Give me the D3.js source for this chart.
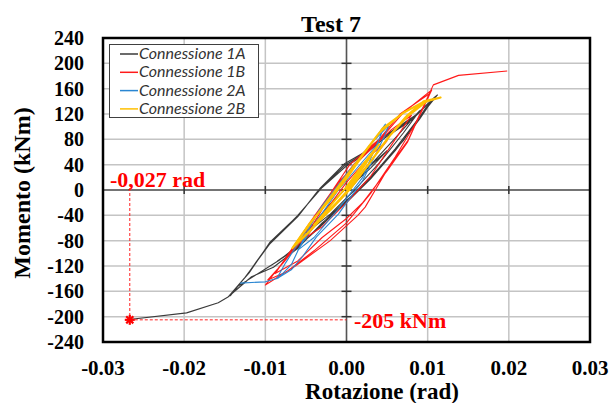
<!DOCTYPE html>
<html>
<head>
<meta charset="utf-8">
<script src="https://cdn.jsdelivr.net/npm/d3@7"></script>
<style>
  body { margin: 0; background: #fff; }
  svg { display: block; }
</style>
</head>
<body>
<script>
// rotazione (rad), momento (kNm)
var conn1A = [
  [0,0],[0.003,35],[0.005,62],[0.002,28],[-0.002,-22],[-0.005,-68],[-0.002,-38],[0.001,0],[0.004,42],[0.007,90],[0.009,125],
  [0.006,82],[0.003,40],[0,-5],[-0.004,-58],[-0.007,-100],[-0.0085,-112],
  [-0.006,-90],[-0.003,-55],[0,-18],[0.003,20],[0.006,65],[0.009,115],[0.0112,150],
  [0.0085,118],[0.0043,82],[0.002,58],[-0.0002,42],[-0.0033,2],[-0.0057,-37],[-0.0094,-82],[-0.012,-131],[-0.0146,-169],
  [-0.0117,-137],[-0.009,-122],[-0.006,-92],[-0.003,-52],[0,-20],[0.003,18],[0.006,62],[0.009,112],[0.0108,146],
  [0.008,110],[0.0047,82],[0.002,54],[0,38],[-0.003,4],[-0.006,-40],[-0.0097,-88],[-0.0122,-133],[-0.0143,-167],
  [-0.0135,-153],[-0.0082,-110],[-0.005,-78],[-0.002,-40],[0.001,-5],[0.004,35],[0.007,78],[0.0098,130],[0.011,148],
  [0.008,112],[0.0045,83],[0.002,56],[-0.0001,40],[-0.0035,-1],[-0.006,-42],[-0.0095,-86],[-0.0125,-138],[-0.0146,-169],
  [-0.0158,-178],[-0.0197,-194],[-0.0265,-204]
];
var conn1B = [
  [0,0],[0.002,30],[0.005,78],[0.003,55],[0,12],[-0.003,-40],[-0.005,-75],[-0.003,-58],[0,-20],[0.003,22],[0.006,80],[0.008,118],
  [0.0055,95],[0.002,52],[-0.001,12],[-0.004,-42],[-0.007,-98],[-0.0088,-132],
  [-0.006,-112],[-0.003,-75],[0,-45],[0.002,-20],[0.005,30],[0.0075,75],[0.0102,152],
  [0.0066,120],[0.004,80],[0.0004,40],[-0.0017,0],[-0.0057,-80],[-0.0082,-120],[-0.01,-150],
  [-0.0063,-120],[-0.002,-80],[0.0014,-40],[0.0023,-27],[0.0052,36],[0.0076,79],[0.0105,158],
  [0.007,122],[0.0045,85],[0.001,42],[-0.0013,4],[-0.005,-72],[-0.0078,-115],[-0.0097,-142],
  [-0.0075,-130],[-0.004,-96],[0,-52],[0.003,-5],[0.006,52],[0.0085,105],[0.0107,166],[0.0138,181],[0.0198,188]
];
var conn2A = [
  [0,0],[0.002,35],[0.004,75],[0.002,45],[-0.001,0],[-0.004,-55],[-0.006,-95],[-0.004,-75],[-0.001,-30],[0.002,20],[0.0048,104],
  [0.003,72],[0,25],[-0.003,-25],[-0.0055,-75],[-0.0075,-115],[-0.0086,-140],
  [-0.0068,-126],[-0.0054,-105],[-0.0037,-74],[-0.001,-38],[0.002,15],[0.0045,80],[0.0052,102],
  [0.0028,70],[0,22],[-0.0033,-30],[-0.0054,-80],[-0.0068,-118],[-0.0084,-139],[-0.01,-145],[-0.0131,-147]
];
var conn2B = [
  [0,0],[0.002,35],[0.004,72],[0.002,40],[0,5],[-0.002,-25],[-0.004,-55],[-0.002,-32],[0,-5],[0.003,45],[0.0055,88],
  [0.0075,118],[0.0095,140],[0.0116,146],
  [0.0095,139],[0.007,122],[0.0045,98],[0.002,55],[0,18],[-0.002,-15],[-0.0045,-52],[-0.0067,-92],
  [-0.0045,-65],[-0.002,-30],[0.0005,2],[0.003,45],[0.0055,88],[0.0075,116],[0.0099,140],[0.0116,146],
  [0.0093,138],[0.0068,120],[0.004,90],[0.0015,48],[-0.0005,14],[-0.003,-28],[-0.0052,-66],[-0.0066,-90],
  [-0.0048,-68],[-0.0022,-34],[0.0002,0],[0.0028,42],[0.0052,84],[0.0072,114],[0.0099,141],[0.0116,146]
];
var seriesNames = ["Connessione 1A", "Connessione 1B", "Connessione 2A", "Connessione 2B"];
var seriesColors = ["#3a3a3a", "#ff1a1a", "#2a86d2", "#ffc000"];
var xTicks = [-0.03, -0.02, -0.01, 0, 0.01, 0.02, 0.03];
var yTicks = [-240, -200, -160, -120, -80, -40, 0, 40, 80, 120, 160, 200, 240];
var ultPoint = [-0.0267, -205];

var W = 609, H = 403;
var plotL = 103, plotR = 590, plotT = 38, plotB = 342;
var serif = "'Liberation Serif', 'Times New Roman', serif";

var svg = d3.select("body").append("svg").attr("width", W).attr("height", H);

var x = d3.scaleLinear().domain([-0.03, 0.03]).range([plotL, plotR]);
var y = d3.scaleLinear().domain([-240, 240]).range([plotB, plotT]);

// grid
svg.append("g").selectAll("line").data(xTicks).enter().append("line")
  .attr("x1", d => x(d)).attr("x2", d => x(d)).attr("y1", plotT).attr("y2", plotB)
  .style("stroke", "#c4c4c4").style("stroke-width", 1.5);
svg.append("g").selectAll("line").data(yTicks).enter().append("line")
  .attr("x1", plotL).attr("x2", plotR).attr("y1", d => y(d)).attr("y2", d => y(d))
  .style("stroke", "#c4c4c4").style("stroke-width", 1.5);

// zero axes with ticks
svg.append("line").attr("x1", plotL).attr("x2", plotR).attr("y1", y(0)).attr("y2", y(0))
  .style("stroke", "#555").style("stroke-width", 1.5);
svg.append("line").attr("x1", x(0)).attr("x2", x(0)).attr("y1", plotT).attr("y2", plotB)
  .style("stroke", "#555").style("stroke-width", 1.5);
svg.append("g").selectAll("line").data(xTicks.slice(1, -1)).enter().append("line")
  .attr("x1", d => x(d)).attr("x2", d => x(d)).attr("y1", y(0) - 4).attr("y2", y(0) + 4)
  .style("stroke", "#333").style("stroke-width", 1.5);
svg.append("g").selectAll("line").data(yTicks.slice(1, -1)).enter().append("line")
  .attr("x1", x(0) - 5).attr("x2", x(0) + 5).attr("y1", d => y(d)).attr("y2", d => y(d))
  .style("stroke", "#333").style("stroke-width", 1.5);

// curves
var line = d3.line().x(d => x(d[0])).y(d => y(d[1]));
var allSeries = [conn1A, conn1B, conn2A, conn2B];
allSeries.forEach(function(s, i) {
  svg.append("path").datum(s).attr("d", line)
    .style("fill", "none").style("stroke", seriesColors[i])
    .style("stroke-width", i == 3 ? 2 : 1.1).style("stroke-linejoin", "round");
});

// ultimate point annotation
svg.append("line").attr("x1", x(ultPoint[0])).attr("x2", x(ultPoint[0])).attr("y1", y(0) - 2).attr("y2", y(ultPoint[1]))
  .style("stroke", "#ff2020").style("stroke-width", 1).style("stroke-dasharray", "3,2");
svg.append("line").attr("x1", x(ultPoint[0])).attr("x2", x(0)).attr("y1", y(ultPoint[1])).attr("y2", y(ultPoint[1]))
  .style("stroke", "#ff2020").style("stroke-width", 1).style("stroke-dasharray", "3,2");
var mk = svg.append("g").attr("transform", "translate(" + x(ultPoint[0]) + "," + y(ultPoint[1]) + ")");
[0, 45, 90, 135].forEach(function(a) {
  mk.append("line").attr("x1", -5).attr("x2", 5).attr("y1", 0).attr("y2", 0)
    .attr("transform", "rotate(" + a + ")").style("stroke", "#ff0000").style("stroke-width", 2.2);
});
svg.append("text").attr("x", 110).attr("y", 187).text("-0,027 rad")
  .style("font-family", serif).style("font-weight", "bold").style("font-size", "22px").style("fill", "#ff0000");
svg.append("text").attr("x", 354).attr("y", 328).text("-205 kNm")
  .style("font-family", serif).style("font-weight", "bold").style("font-size", "22px").style("fill", "#ff0000");

// frame
svg.append("rect").attr("x", plotL).attr("y", plotT).attr("width", plotR - plotL).attr("height", plotB - plotT)
  .style("fill", "none").style("stroke", "#000").style("stroke-width", 2.5);

// tick labels
var fmtX = function(d) { return d3.format(".2f")(d).replace("\u2212", "-"); };
svg.append("g").selectAll("text").data(yTicks).enter().append("text")
  .attr("x", 84).attr("y", d => y(d) + 7).attr("text-anchor", "end").text(d => d)
  .style("font-family", serif).style("font-weight", "bold").style("font-size", "20px").style("fill", "#000");
svg.append("g").selectAll("text").data(xTicks).enter().append("text")
  .attr("x", d => x(d)).attr("y", 375).attr("text-anchor", "middle").text(fmtX)
  .style("font-family", serif).style("font-weight", "bold").style("font-size", "21px").style("fill", "#000");

// titles
svg.append("text").attr("x", 331).attr("y", 32).attr("text-anchor", "middle").text("Test 7")
  .style("font-family", serif).style("font-weight", "bold").style("font-size", "24px");
svg.append("text").attr("x", 382).attr("y", 399).attr("text-anchor", "middle").text("Rotazione (rad)")
  .style("font-family", serif).style("font-weight", "bold").style("font-size", "23px");
svg.append("text").attr("transform", "translate(30,193) rotate(-90)").attr("text-anchor", "middle").text("Momento (kNm)")
  .style("font-family", serif).style("font-weight", "bold").style("font-size", "24px");

// legend
var lg = svg.append("g");
lg.append("rect").attr("x", 109.5).attr("y", 44.5).attr("width", 149).attr("height", 73)
  .style("fill", "#fff").style("stroke", "#404040").style("stroke-width", 1);
seriesNames.forEach(function(n, i) {
  var ly = 54 + i * 18.3;
  lg.append("line").attr("x1", 120).attr("x2", 138).attr("y1", ly).attr("y2", ly)
    .style("stroke", seriesColors[i]).style("stroke-width", 1.5);
  lg.append("text").attr("x", 139).attr("y", ly + 5).text(n)
    .style("font-family", "Lato, sans-serif").style("font-style", "italic").style("font-size", "16px").style("fill", "#333");
});
</script>
</body>
</html>
